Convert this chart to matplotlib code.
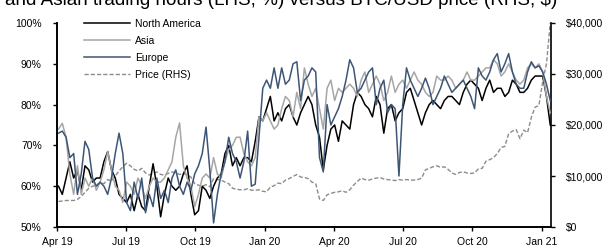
import matplotlib
matplotlib.use("Agg")
import matplotlib.pyplot as plt
from matplotlib.ticker import FuncFormatter
import pandas as pd

plt.rcParams["font.family"] = ["Liberation Sans", "DejaVu Sans"]
plt.rcParams["font.size"] = 7.5

# 5-day samples starting early April 2019
dates = pd.date_range("2019-04-03", periods=131, freq="5D")

north_america = [
    60, 58, 62, 66, 62, 64, 59, 65, 64, 61,
    62, 62, 66, 68.5, 64, 62, 58, 57, 56, 58,
    54, 58, 55, 54, 60, 65.5, 60, 52.5, 58, 62,
    60, 59, 60, 63, 65, 58, 53, 54, 60, 59,
    57, 60, 62, 63, 68, 70, 65, 67, 65, 67,
    67, 66, 71, 77, 76, 79, 82, 76, 78, 76,
    79, 80, 77, 75, 78, 80, 82, 80, 75, 72,
    64, 70, 74, 75, 71, 76, 75, 74, 80, 83,
    82, 80, 79, 77, 82, 80, 73, 79, 80, 76,
    78, 79, 83, 84, 81, 78, 75, 78, 80, 81,
    80, 79, 81, 82, 82, 81, 80, 83, 85, 86,
    85, 84, 81, 84, 86, 83, 84, 84, 82, 83,
    86, 85, 83, 83, 84, 86, 87, 87, 87, 82,
    75,
]

asia = [
    74, 75.4, 72, 63, 58, 65, 58, 62, 60, 62,
    59, 61, 64, 68.5, 64, 60, 59, 56, 61, 60,
    58, 62, 60, 57, 60, 62, 61, 61, 62, 64,
    66, 72, 75.5, 65, 62, 60, 55, 58, 62, 63,
    62, 67, 63, 62, 66, 69, 70, 72, 72, 68,
    66, 65, 67, 77, 76, 78, 76, 74, 75, 79,
    82, 81, 77, 83, 79, 89, 85, 82, 84, 79,
    74, 84, 86, 81, 84, 83, 84, 85, 84, 82,
    86, 88, 83, 85, 87, 85, 81, 83, 87, 83,
    85, 86, 84, 86, 88, 86, 85, 83, 82, 83,
    87, 86, 86, 87, 86, 84, 85, 86, 88, 86,
    86, 87, 88, 89, 89, 91, 90, 87, 88, 90,
    88, 86, 85, 86, 89, 90, 89, 90, 88, 82,
    78,
]

europe = [
    73, 73.5, 72, 67, 68, 58, 63, 71, 69, 62,
    60, 61, 60, 58, 62, 68, 73, 68, 56, 54,
    61, 57, 62, 53.5, 58, 55, 62, 57, 59, 56,
    62, 64, 60, 58, 61, 59, 63, 65, 68, 74.5,
    64, 51, 58, 63, 66, 72, 68, 66, 62, 66,
    73.5, 60, 60.5, 72, 84, 86, 84, 89, 84, 89,
    85, 86, 90, 90.5, 81, 86, 87, 89, 88, 67,
    63.5, 80, 75, 77, 79, 82, 86, 91, 89, 83,
    84, 86, 88, 89, 80, 84, 86, 78, 80, 79,
    62.5, 80, 89, 86, 84, 82, 84, 86.5, 84, 80,
    82, 84, 87, 85, 83, 84, 85, 86, 84, 82,
    79, 89, 87, 86, 88, 91, 92.5, 88, 90, 92.5,
    88, 85, 84, 84, 88, 90.5, 89, 89.5, 88, 85,
    81,
]

# BTC/USD price, $ thousands
price_k = [
    5.0, 5.1, 5.2, 5.2, 5.2, 5.4, 6.0, 6.8, 7.6, 8.0,
    8.2, 8.7, 8.5, 9.3, 9.0, 10.0, 11.0, 11.8, 12.5, 12.0,
    11.3, 11.0, 11.5, 10.6, 10.2, 10.5, 10.8, 10.3, 10.2, 10.5,
    10.8, 10.6, 10.3, 10.5, 10.2, 9.8, 8.5, 8.2, 8.0, 8.3,
    7.9, 9.5, 9.3, 9.2, 8.8, 8.5, 7.6, 7.4, 7.3, 7.3,
    7.5, 7.2, 7.2, 7.3, 7.0, 6.9, 7.8, 8.1, 8.6, 8.5,
    9.2, 9.5, 9.9, 10.3, 9.8, 9.7, 9.5, 8.8, 8.5, 5.5,
    5.2, 6.3, 6.6, 6.8, 6.9, 7.1, 6.8, 7.3, 8.2, 8.9,
    9.6, 9.3, 9.2, 9.4, 9.6, 9.7, 9.4, 9.3, 9.2, 9.1,
    9.3, 9.2, 9.3, 9.2, 9.2, 9.3, 9.6, 11.2, 11.5, 11.8,
    12.0, 11.7, 11.8, 11.3, 10.6, 10.3, 10.7, 10.8, 10.6, 10.5,
    10.6, 11.4, 11.5, 12.9, 13.2, 13.6, 14.4, 15.6, 15.8, 18.3,
    18.8, 19.1, 17.3, 19.0, 18.5, 21.5, 23.5, 23.8, 28.5, 32.0,
    40.0,
]

tick_dates = pd.date_range("2019-04-01", "2021-01-01", freq="QS")
tick_labels = ["Apr 19", "Jul 19", "Oct 19", "Jan 20",
               "Apr 20", "Jul 20", "Oct 20", "Jan 21"]

fig = plt.figure(figsize=(6.07, 2.49), dpi=100)
ax1 = fig.add_axes([57 / 607, 22 / 249, 494 / 607, 204 / 249])
ax2 = ax1.twinx()
# keep the regional lines above the price line
ax1.set_zorder(ax2.get_zorder() + 1)
ax1.patch.set_visible(False)

price_line, = ax2.plot(dates, [p * 1000 for p in price_k], color="#8c8c8c",
                       linestyle=(0, (3, 1.5)), linewidth=1.0, label="Price (RHS)")
na_line, = ax1.plot(dates, north_america, color="black", linewidth=1.1,
                    label="North America")
asia_line, = ax1.plot(dates, asia, color="#a6a6a6", linewidth=1.1, label="Asia")
eu_line, = ax1.plot(dates, europe, color="#3e5675", linewidth=1.1, label="Europe")

ax1.set_xlim(pd.Timestamp("2019-04-01"), pd.Timestamp("2021-01-13"))
ax1.set_ylim(50, 100)
ax2.set_ylim(0, 40000)
ax1.set_yticks([50, 60, 70, 80, 90, 100])
ax1.yaxis.set_major_formatter(FuncFormatter(lambda v, _: f"{v:.0f}%"))
ax2.set_yticks([0, 10000, 20000, 30000, 40000])
ax2.yaxis.set_major_formatter(FuncFormatter(lambda v, _: f"${v:,.0f}"))
ax1.set_xticks(tick_dates)
ax1.set_xticklabels(tick_labels)

for ax in (ax1, ax2):
    ax.spines["top"].set_visible(False)
    for s in ax.spines.values():
        s.set_linewidth(1.2)
    ax.tick_params(axis="y", length=3, width=1, pad=8, labelsize=7.5)
ax1.tick_params(axis="x", length=3, width=1, pad=4, labelsize=7.5)
ax1.spines["right"].set_visible(False)

ax1.legend(handles=[na_line, asia_line, eu_line, price_line],
           loc="upper left", bbox_to_anchor=(0.055, 1.02), frameon=False,
           handlelength=4.4, handletextpad=0.5, labelspacing=0.67,
           borderpad=0, borderaxespad=0, fontsize=7.5)

fig.text(0.008, 1 - 5 / 249,
         "and Asian trading hours (LHS, %) versus BTC/USD price (RHS, $)",
         fontsize=13.6, va="baseline", ha="left")

fig.savefig("out.png", dpi=100)
